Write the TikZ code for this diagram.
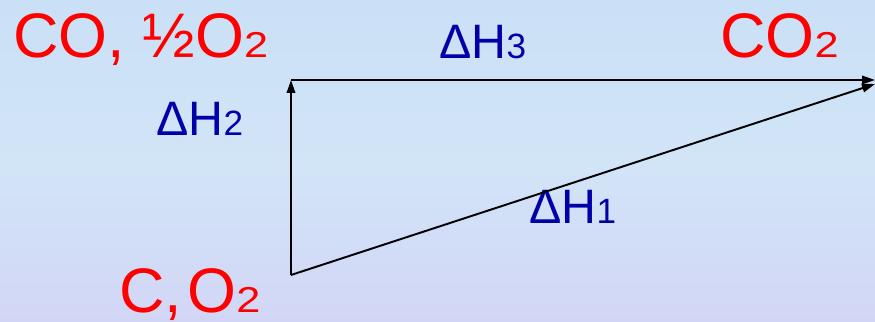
\documentclass[tikz,border=0pt]{standalone}
\usepackage{fontspec}
\setmainfont{Liberation Sans}
\usetikzlibrary{arrows.meta}
\definecolor{bgblue}{RGB}{202,224,246}
\definecolor{bglav}{RGB}{210,214,246}
\definecolor{labred}{RGB}{255,0,0}
\definecolor{labblue}{RGB}{0,0,170}
\newcommand{\bigsub}[1]{\scalebox{1.2}[1]{\fontsize{20.5}{24}\selectfont #1}}
\newcommand{\smallsub}[1]{{\fontsize{20}{22}\selectfont #1}}

\begin{document}
\begin{tikzpicture}[x=0.02cm, y=-0.02cm, >={Triangle[length=0.26cm, width=0.17cm]}]
    \tikzset{
        species/.style={inner sep=0pt, anchor=base west, text=labred, font=\fontsize{35.8}{40}\selectfont},
        enthalpy/.style={inner sep=0pt, anchor=base west, text=labblue, font=\fontsize{27.5}{30}\selectfont},
        path/.style={draw=black, line width=1.1pt},
    }
    % background
    \useasboundingbox (0,0) rectangle (875,321);
    \shade[top color=bgblue, bottom color=bglav, middle color=bgblue!85!white] (0,0) rectangle (875,321);

    % corners of the cycle
    \coordinate (start) at (291,275);
    \coordinate (mid) at (291,80);
    \coordinate (end) at (875,80);
    \coordinate (enddiag) at (875,84);

    \node[species] (co) at (13,57) {CO, ½O\bigsub{2}};
    \node[species] (co2) at (720,57) {CO\bigsub{2}};
    \node[species] (c) at (119,312) {C,\kern3pt O\bigsub{2}};

    \node[enthalpy] (h3) at (439,58) {ΔH\smallsub{3}};
    \node[enthalpy] (h2) at (156,135) {ΔH\smallsub{2}};
    \node[enthalpy] (h1) at (529,223) {ΔH\smallsub{1}};

    \draw[path, ->] (start) -- (mid);
    \draw[path, ->] (mid) -- (end);
    \draw[path, ->] (start) -- (enddiag);
\end{tikzpicture}
\end{document}
